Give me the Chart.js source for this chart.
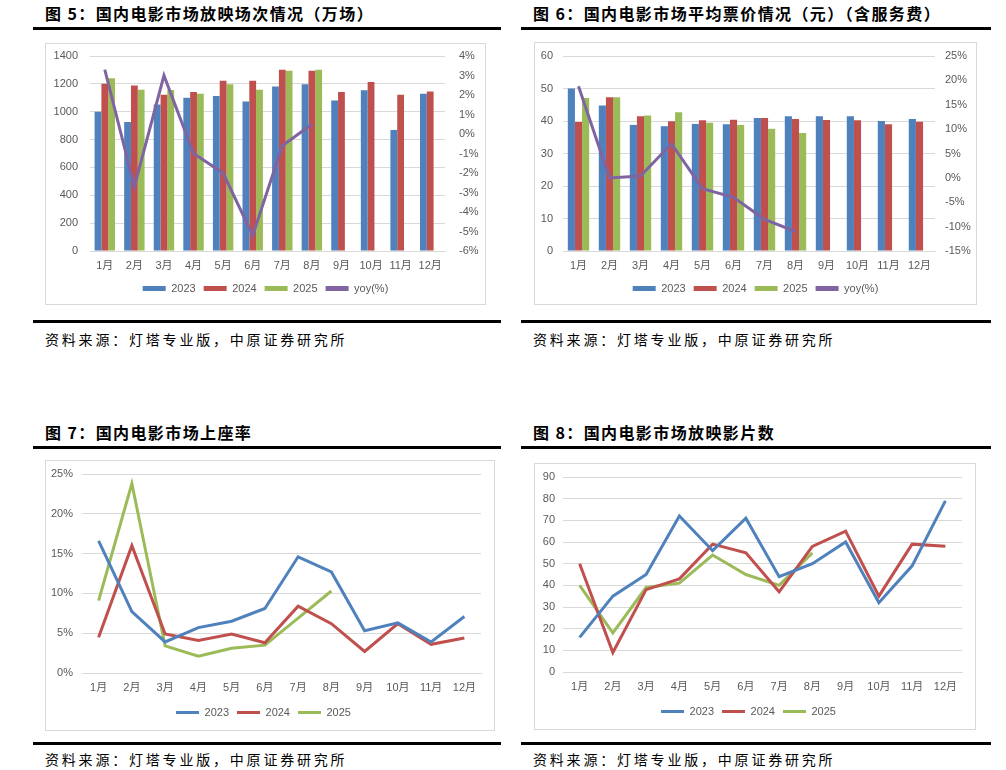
<!DOCTYPE html>
<html>
<head>
<meta charset="utf-8">
<script src="https://cdn.jsdelivr.net/npm/chart.js@4.4.1/dist/chart.umd.min.js"></script>
<style>
body{margin:0;background:#fff;width:1006px;height:770px;position:relative;overflow:hidden;font-family:"Noto Sans CJK SC",sans-serif;color:#000;}
.title{position:absolute;font-size:16px;font-weight:bold;letter-spacing:1.4px;line-height:20px;white-space:nowrap;}
.rule{position:absolute;height:3px;background:#000;}
.src{position:absolute;font-size:14px;letter-spacing:2.8px;line-height:20px;white-space:nowrap;}
.box{position:absolute;border:1px solid #D9D9D9;box-sizing:border-box;}
.box div{position:relative;width:100%;height:100%;}
</style>
</head>
<body>

<div class="title" style="left:45px;top:3px">图 5：国内电影市场放映场次情况（万场）</div>
<div class="rule" style="left:33px;top:27px;width:468px"></div>
<div class="box" style="left:45px;top:43px;width:441px;height:262px"><div><canvas id="c5"></canvas></div></div>
<div class="rule" style="left:33px;top:320px;width:468px"></div>
<div class="src" style="left:45px;top:329px">资料来源：灯塔专业版，中原证券研究所</div>

<div class="title" style="left:533px;top:3px">图 6：国内电影市场平均票价情况（元）（含服务费）</div>
<div class="rule" style="left:521px;top:27px;width:470px"></div>
<div class="box" style="left:534px;top:42px;width:443px;height:263px"><div><canvas id="c6"></canvas></div></div>
<div class="rule" style="left:521px;top:320px;width:470px"></div>
<div class="src" style="left:533px;top:329px">资料来源：灯塔专业版，中原证券研究所</div>

<div class="title" style="left:45px;top:422px">图 7：国内电影市场上座率</div>
<div class="rule" style="left:33px;top:446px;width:468px"></div>
<div class="box" style="left:45px;top:460px;width:450px;height:271px"><div><canvas id="c7"></canvas></div></div>
<div class="rule" style="left:33px;top:742px;width:468px"></div>
<div class="src" style="left:45px;top:749px">资料来源：灯塔专业版，中原证券研究所</div>

<div class="title" style="left:533px;top:422px">图 8：国内电影市场放映影片数</div>
<div class="rule" style="left:521px;top:446px;width:470px"></div>
<div class="box" style="left:534px;top:463px;width:442px;height:267px"><div><canvas id="c8"></canvas></div></div>
<div class="rule" style="left:521px;top:742px;width:470px"></div>
<div class="src" style="left:533px;top:749px">资料来源：灯塔专业版，中原证券研究所</div>

<script>
"use strict";

var months = ['1月', '2月', '3月', '4月', '5月', '6月', '7月', '8月', '9月', '10月', '11月', '12月'];

// 图5 放映场次（万场）
var shows2023 = [1000, 927, 1052, 1100, 1112, 1073, 1181, 1198, 1081, 1155, 869, 1129];
var shows2024 = [1201, 1189, 1122, 1141, 1222, 1222, 1302, 1294, 1141, 1213, 1121, 1146];
var shows2025 = [1240, 1157, 1156, 1129, 1198, 1157, 1294, 1302];
var showsYoy = [3.3, -2.7, 3.0, -1.0, -2.0, -5.2, -0.6, 0.5];

// 图6 平均票价（元）
var price2023 = [50.0, 44.8, 38.8, 38.4, 39.1, 39.0, 40.9, 41.5, 41.5, 41.5, 40.0, 40.6];
var price2024 = [39.7, 47.3, 41.5, 39.9, 40.2, 40.4, 40.9, 40.6, 40.3, 40.2, 39.0, 39.8];
var price2025 = [47.1, 47.3, 41.7, 42.7, 39.5, 38.8, 37.6, 36.3];
var priceYoy = [18.8, 0.0, 0.4, 7.0, -2.2, -4.0, -8.5, -11.0];

// 图7 上座率（%）
var occ2023 = [16.6, 7.7, 3.9, 5.7, 6.5, 8.1, 14.6, 12.7, 5.3, 6.3, 3.9, 7.1];
var occ2024 = [4.5, 16.0, 4.9, 4.1, 4.9, 3.8, 8.4, 6.2, 2.7, 6.2, 3.6, 4.4];
var occ2025 = [9.1, 23.8, 3.4, 2.1, 3.1, 3.5, 6.9, 10.3];

// 图8 放映影片数
var films2023 = [16, 35, 45, 72, 56, 71, 44, 50, 60, 32, 49, 79];
var films2024 = [50, 9, 38, 43, 59, 55, 37, 58, 65, 35, 59, 58];
var films2025 = [40, 18, 39, 41, 54, 45, 40, 55];

var BLUE = '#4F81BD', RED = '#C0504D', GREEN = '#9BBB59', PURPLE = '#8064A2';
var GRID = '#D9D9D9', TICK = '#595959';
var FONT = '"Liberation Sans", "Noto Sans CJK SC", sans-serif';

Chart.defaults.font.family = FONT;
Chart.defaults.font.size = 11;
Chart.defaults.color = TICK;
Chart.defaults.animation = false;

// fixed axis width, and no extra top/bottom padding from the tick labels
function fixW(w){ return function(s){ s.width = w; s.paddingTop = 0; s.paddingBottom = 0; }; }
function fixH(h){ return function(s){ s.height = h; }; }
function pct(v){ return v + '%'; }
function plain(v){ return String(v); }

function legendOpts(boxH){
    return {
        position: 'bottom',
        labels: {
            boxWidth: 23,
            boxHeight: boxH,
            padding: 8,
            color: TICK,
            font: {size: 11},
            sort: function(a, b){ return a.datasetIndex - b.datasetIndex; },
            generateLabels: function(chart){
                var items = Chart.defaults.plugins.legend.labels.generateLabels(chart);
                items.forEach(function(it){ it.lineWidth = 0; });
                return items;
            }
        }
    };
}

function xAxis(h){
    return {
        offset: true,
        grid: {display: false, drawTicks: false},
        border: {display: true, color: GRID},
        ticks: {padding: 8, maxRotation: 0, autoSkip: false},
        afterFit: fixH(h)
    };
}

function barSet(label, data, color){
    return {type: 'bar', label: label, data: data, backgroundColor: color, borderWidth: 0,
        barPercentage: 1, categoryPercentage: 0.69, order: 1, yAxisID: 'y'};
}
function lineSet(label, data, color, axis){
    return {type: 'line', label: label, data: data, borderColor: color, backgroundColor: color,
        borderWidth: 3, pointRadius: 0, tension: 0, order: 0, yAxisID: axis || 'y'};
}

// 图5
new Chart(document.getElementById('c5'), {
    data: {
        labels: months,
        datasets: [
            barSet('2023', shows2023, BLUE),
            barSet('2024', shows2024, RED),
            barSet('2025', shows2025, GREEN),
            lineSet('yoy(%)', showsYoy, PURPLE, 'y1')
        ]
    },
    options: {
        responsive: true,
        maintainAspectRatio: false,
        layout: {padding: {top: 12, bottom: 0}},
        plugins: {legend: legendOpts(5), tooltip: {enabled: false}},
        scales: {
            x: xAxis(24),
            y: {min: 0, max: 1400, ticks: {stepSize: 200, padding: 12, callback: plain},
                grid: {color: GRID, drawTicks: false}, border: {display: false}, afterFit: fixW(44)},
            y1: {position: 'right', min: -6, max: 4, ticks: {stepSize: 1, padding: 14, callback: pct},
                grid: {drawOnChartArea: false, drawTicks: false}, border: {display: false}, afterFit: fixW(40)}
        }
    }
});

// 图6
new Chart(document.getElementById('c6'), {
    data: {
        labels: months,
        datasets: [
            barSet('2023', price2023, BLUE),
            barSet('2024', price2024, RED),
            barSet('2025', price2025, GREEN),
            lineSet('yoy(%)', priceYoy, PURPLE, 'y1')
        ]
    },
    options: {
        responsive: true,
        maintainAspectRatio: false,
        layout: {padding: {top: 13, bottom: 0}},
        plugins: {legend: legendOpts(5), tooltip: {enabled: false}},
        scales: {
            x: xAxis(24),
            y: {min: 0, max: 60, ticks: {stepSize: 10, padding: 10, callback: plain},
                grid: {color: GRID, drawTicks: false}, border: {display: false}, afterFit: fixW(28)},
            y1: {position: 'right', min: -15, max: 25, ticks: {stepSize: 5, padding: 10, callback: pct},
                grid: {drawOnChartArea: false, drawTicks: false}, border: {display: false}, afterFit: fixW(41)}
        }
    }
});

// 图7
new Chart(document.getElementById('c7'), {
    type: 'line',
    data: {
        labels: months,
        datasets: [
            lineSet('2023', occ2023, BLUE),
            lineSet('2024', occ2024, RED),
            lineSet('2025', occ2025, GREEN)
        ]
    },
    options: {
        responsive: true,
        maintainAspectRatio: false,
        layout: {padding: {top: 13, right: 13, bottom: 2}},
        plugins: {legend: legendOpts(3), tooltip: {enabled: false}},
        scales: {
            x: xAxis(26),
            y: {min: 0, max: 25, ticks: {stepSize: 5, padding: 9, callback: pct},
                grid: {color: GRID, drawTicks: false}, border: {display: false}, afterFit: fixW(36)}
        }
    }
});

// 图8
new Chart(document.getElementById('c8'), {
    type: 'line',
    data: {
        labels: months,
        datasets: [
            lineSet('2023', films2023, BLUE),
            lineSet('2024', films2024, RED),
            lineSet('2025', films2025, GREEN)
        ]
    },
    options: {
        responsive: true,
        maintainAspectRatio: false,
        layout: {padding: {top: 13, right: 13, bottom: 2}},
        plugins: {legend: legendOpts(3), tooltip: {enabled: false}},
        scales: {
            x: xAxis(26),
            y: {min: 0, max: 90, ticks: {stepSize: 10, padding: 8, callback: plain},
                grid: {color: GRID, drawTicks: false}, border: {display: false}, afterFit: fixW(28)}
        }
    }
});
</script>
</body>
</html>
